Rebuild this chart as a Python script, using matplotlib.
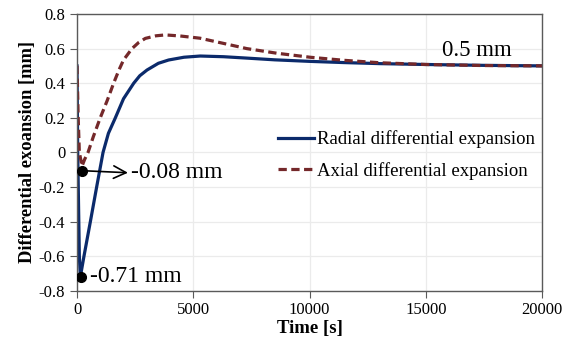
import matplotlib
matplotlib.use('Agg')
import matplotlib.pyplot as plt

plt.rcParams['font.family'] = ['Liberation Serif', 'DejaVu Serif']

# Radial differential expansion (time [s], value [mm])
radial_t = [0, 30, 100, 143, 300, 575, 845, 1120, 1350, 1650, 2000, 2440, 2700,
            3010, 3500, 3940, 4600, 5300, 6300, 7300, 8500, 10020, 11500, 13030,
            15000, 17500, 20000]
radial_v = [0.50, 0.0, -0.60, -0.72, -0.60, -0.40, -0.20, 0.0, 0.11, 0.20,
            0.31, 0.40, 0.443, 0.476, 0.515, 0.534, 0.550, 0.557, 0.553, 0.545,
            0.535, 0.526, 0.519, 0.513, 0.508, 0.503, 0.50]

# Axial differential expansion
axial_t = [0, 50, 100, 215, 330, 475, 700, 1000, 1300, 1575, 1800, 2000, 2365,
           2650, 2940, 3400, 3800, 4430, 5290, 6300, 7300, 8600, 10020, 11500,
           13030, 15000, 17500, 20000]
axial_v = [0.50, 0.20, 0.0, -0.08, -0.04, 0.0, 0.09, 0.20, 0.30, 0.40, 0.475,
           0.534, 0.60, 0.635, 0.659, 0.674, 0.679, 0.673, 0.66, 0.63, 0.60,
           0.573, 0.55, 0.532, 0.518, 0.508, 0.502, 0.50]

# marked points
min_t = [215, 160]
min_v = [-0.106, -0.719]

xticks = [0, 5000, 10000, 15000, 20000]
yticks = [-0.8, -0.6, -0.4, -0.2, 0, 0.2, 0.4, 0.6, 0.8]
ytick_labels = ['-0.8', '-0.6', '-0.4', '-0.2', '0', '0.2', '0.4', '0.6', '0.8']

fig = plt.figure(figsize=(5.63, 3.44), dpi=100)
ax = fig.add_axes([0.1368, 0.155, 0.8259, 0.8043])

ax.plot(radial_t, radial_v, color='#0b2a6b', lw=2.3, label='Radial differential expansion')
ax.plot(axial_t, axial_v, color='#74282a', lw=2.3, ls=(0, (2.6, 1.4)),
        label='Axial differential expansion')
ax.plot(min_t, min_v, 'o', color='black', ms=7, zorder=5)

ax.annotate('', xy=(2190, -0.118), xytext=(min_t[0], min_v[0]),
            arrowprops=dict(arrowstyle='->,head_length=0.9,head_width=0.45',
                            color='black', lw=1.2, shrinkA=0, shrinkB=0))
ax.text(2330, -0.118, '-0.08 mm', fontsize=17, va='center', ha='left')
ax.text(560, -0.716, '-0.71 mm', fontsize=17, va='center', ha='left')
ax.text(15700, 0.588, '0.5 mm', fontsize=16.5, va='center', ha='left')

ax.set_xlim(0, 20000)
ax.set_ylim(-0.8, 0.8)
ax.set_xticks(xticks)
ax.set_yticks(yticks)
ax.set_yticklabels(ytick_labels)
ax.tick_params(labelsize=12, direction='out', length=5, color='#5a5a5a')
ax.grid(True, color='#ebebeb', lw=0.9)
ax.set_axisbelow(True)
for s in ax.spines.values():
    s.set_color('#5a5a5a')
    s.set_linewidth(1.0)

ax.set_xlabel('Time [s]', fontsize=13.5, fontweight='bold', labelpad=1)
ax.set_ylabel('Differential exoansion [mm]', fontsize=13.3, fontweight='bold', labelpad=2)

ax.legend(loc='center left', bbox_to_anchor=(0.417, 0.49), frameon=False,
          fontsize=13.5, handlelength=1.9, handletextpad=0.15, labelspacing=0.75,
          borderaxespad=0)

fig.savefig('out.png', dpi=100)
